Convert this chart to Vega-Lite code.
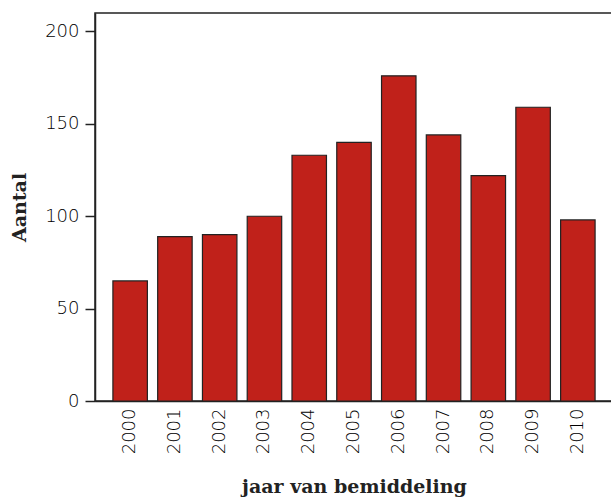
{
  "$schema": "https://vega.github.io/schema/vega-lite/v6.json",
  "width": 518,
  "height": 388,
  "autosize": {"type": "none"},
  "padding": {"left": 95, "top": 13, "right": 0, "bottom": 98},
  "background": "white",
  "config": {
    "view": {"stroke": "#222222", "strokeWidth": 1.5},
    "axis": {"grid": false, "domainColor": "#222222", "tickColor": "#222222", "labelColor": "#000000", "titleColor": "#222222"}
  },
  "data": {
    "values": [
      {"jaar": "2000", "aantal": 65},
      {"jaar": "2001", "aantal": 89},
      {"jaar": "2002", "aantal": 90},
      {"jaar": "2003", "aantal": 100},
      {"jaar": "2004", "aantal": 133},
      {"jaar": "2005", "aantal": 140},
      {"jaar": "2006", "aantal": 176},
      {"jaar": "2007", "aantal": 144},
      {"jaar": "2008", "aantal": 122},
      {"jaar": "2009", "aantal": 159},
      {"jaar": "2010", "aantal": 98}
    ]
  },
  "mark": {"type": "bar", "color": "#C0211A", "stroke": "#222222", "strokeWidth": 1.2},
  "encoding": {
    "x": {
      "field": "jaar",
      "type": "ordinal",
      "scale": {"paddingInner": 0.23, "paddingOuter": 0.4},
      "axis": {
        "title": "jaar van bemiddeling",
        "titleFont": "DejaVu Serif",
        "titleFontWeight": "bold",
        "titleFontSize": 19,
        "titlePadding": 24,
        "labelFont": "DejaVu Sans",
        "labelFontWeight": 300,
        "labelFontSize": 18,
        "labelAngle": -90,
        "labelPadding": 7,
        "ticks": false,
        "domainWidth": 1.5
      }
    },
    "y": {
      "field": "aantal",
      "type": "quantitative",
      "scale": {"domain": [0, 210], "nice": false},
      "axis": {
        "title": "Aantal",
        "titleFont": "DejaVu Serif",
        "titleFontWeight": "bold",
        "titleFontSize": 19,
        "titlePadding": 15,
        "labelFont": "DejaVu Sans",
        "labelFontWeight": 300,
        "labelFontSize": 18,
        "labelPadding": 6,
        "tickSize": 10,
        "tickWidth": 1.5,
        "domainWidth": 1.5,
        "values": [0, 50, 100, 150, 200]
      }
    }
  }
}
